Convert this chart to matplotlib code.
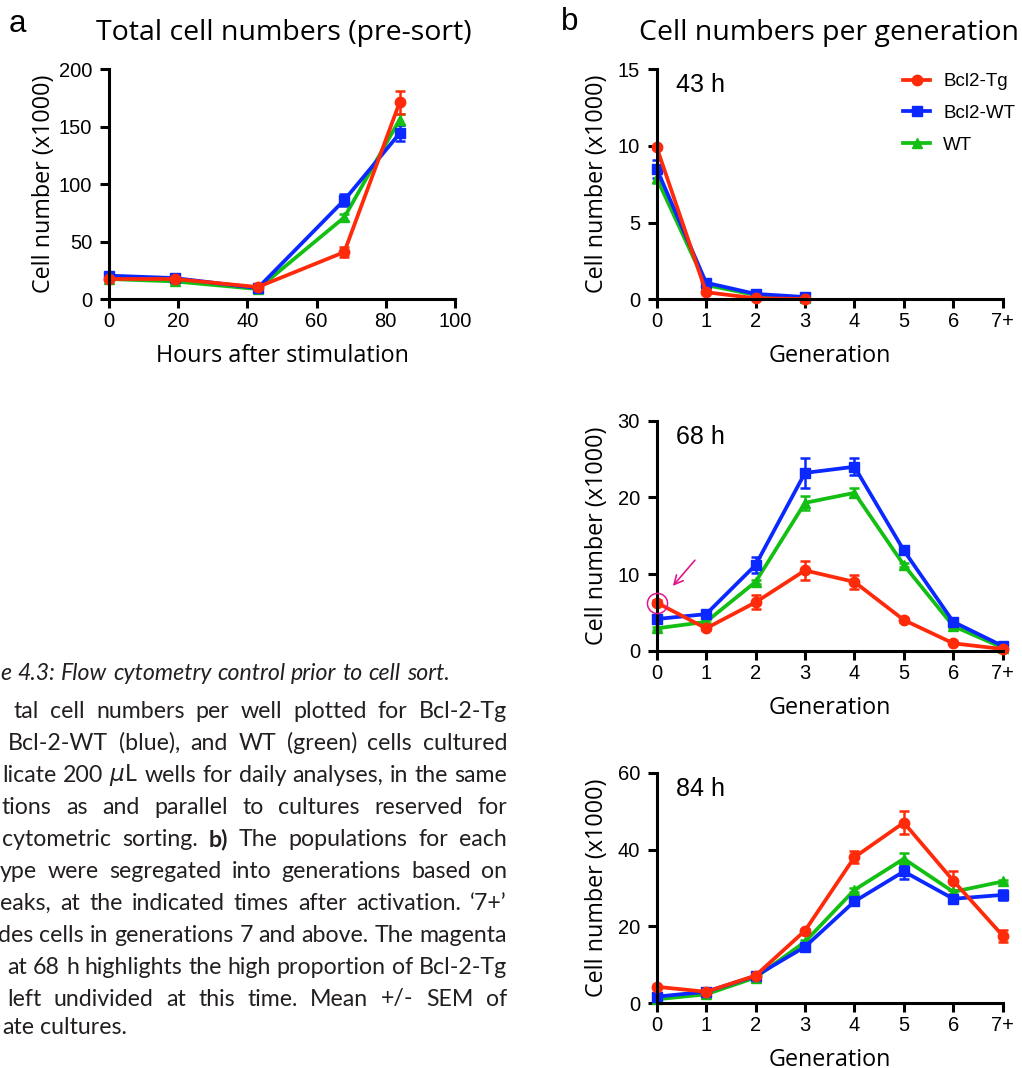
import matplotlib
matplotlib.use("Agg")
import matplotlib.pyplot as plt
from matplotlib.lines import Line2D

# ---- data ----
hours = [0, 19, 43, 68, 84]
tot_tg = [17.4, 17.4, 10.4, 40.8, 171]
tot_tg_err = [1, 1, 1, 4, 10]
tot_bwt = [20.3, 18.2, 9.5, 86, 144]
tot_bwt_err = [1.5, 1, 1, 5, 7]
tot_wt = [17.4, 15.3, 8.7, 71, 156]
tot_wt_err = [1, 1, 1, 3, 5]

gen_labels = ["0", "1", "2", "3", "4", "5", "6", "7+"]

g43_tg = [9.9, 0.46, 0.07, 0.02]
g43_tg_err = [0.1, 0.05, 0.02, 0.01]
g43_bwt = [8.5, 1.08, 0.35, 0.15]
g43_bwt_err = [0.6, 0.1, 0.05, 0.03]
g43_wt = [7.9, 0.93, 0.28, 0.1]
g43_wt_err = [0.3, 0.08, 0.04, 0.02]

g68_tg = [6.3, 2.95, 6.34, 10.5, 9.0, 4.04, 1.0, 0.26]
g68_tg_err = [0.3, 0.2, 0.9, 1.2, 0.9, 0.2, 0.1, 0.05]
g68_bwt = [4.17, 4.8, 11.2, 23.2, 24.0, 13.1, 3.8, 0.65]
g68_bwt_err = [0.2, 0.2, 1.1, 2.0, 1.1, 0.5, 0.3, 0.1]
g68_wt = [2.95, 3.8, 9.0, 19.3, 20.6, 11.2, 3.25, 0.43]
g68_wt_err = [0.2, 0.2, 0.3, 0.9, 0.6, 0.3, 0.2, 0.1]

g84_tg = [4.3, 3.0, 7.2, 18.9, 38.0, 47.0, 31.9, 17.6]
g84_tg_err = [0.3, 0.3, 0.4, 0.5, 1.6, 3.0, 2.5, 1.6]
g84_bwt = [1.73, 3.0, 7.1, 14.7, 26.5, 34.3, 27.2, 28.2]
g84_bwt_err = [0.3, 0.3, 0.3, 0.5, 1.0, 2.0, 0.6, 1.2]
g84_wt = [1.04, 2.34, 6.7, 16.0, 29.5, 37.6, 29.0, 31.7]
g84_wt_err = [0.2, 0.2, 0.3, 0.5, 0.6, 1.5, 0.5, 0.5]

RED = "#ff2a0a"
BLUE = "#0a28ff"
GREEN = "#12bf12"
MAGENTA = "#e0168a"

TICK_FONT = ["Liberation Sans", "DejaVu Sans"]
LABEL_FONT = ["Open Sans", "DejaVu Sans"]
CAP_FONT = ["Lato", "DejaVu Sans"]

W, H = 1022, 1068
fig = plt.figure(figsize=(W / 100, H / 100), dpi=100)


def box(left, top, right, bottom):
    return [left / W, 1 - bottom / H, (right - left) / W, (bottom - top) / H]


def style_axes(ax):
    for s in ["top", "right"]:
        ax.spines[s].set_visible(False)
    for s in ["left", "bottom"]:
        ax.spines[s].set_linewidth(2.2)
    ax.tick_params(direction="out", length=6.5, width=2.2, labelsize=14.5)
    ax.tick_params(axis="x", pad=3)
    ax.tick_params(axis="y", pad=5.5)
    for lab in ax.get_xticklabels() + ax.get_yticklabels():
        lab.set_family(TICK_FONT)


def labels(ax, xlab, ylab_x_px, height_px):
    ax.set_xlabel(xlab, family=LABEL_FONT, fontsize=16.8, va="baseline")
    ax.xaxis.set_label_coords(0.5, -62.5 / height_px)
    ax.set_ylabel("Cell number (x1000)", family=LABEL_FONT, fontsize=16.8,
                  va="baseline")
    ax.yaxis.set_label_coords(-ylab_x_px / 346, 0.5)


def series(ax, x, y, err, color, marker, ms):
    ax.errorbar(x, y, yerr=err, color=color, marker=marker, ms=ms, lw=2.7,
                elinewidth=1.8, capsize=3.8, capthick=1.8, clip_on=False)


# ---- panel a ----
ax = fig.add_axes(box(109, 69, 455, 299))
series(ax, hours, tot_wt, tot_wt_err, GREEN, "^", 7)
series(ax, hours, tot_bwt, tot_bwt_err, BLUE, "s", 7)
series(ax, hours, tot_tg, tot_tg_err, RED, "o", 7.5)
ax.set_xlim(0, 100)
ax.set_ylim(0, 200)
ax.set_xticks([0, 20, 40, 60, 80, 100])
ax.set_yticks([0, 50, 100, 150, 200])
style_axes(ax)
labels(ax, "Hours after stimulation", 59, 230)

fig.text(284 / W, 1 - 33 / H, "Total cell numbers (pre-sort)", family=LABEL_FONT,
         fontsize=20.5, ha="center", va="center")
fig.text(9 / W, 1 - 32 / H, "a", family=TICK_FONT, fontsize=22.5, ha="left", va="baseline")
fig.text(561 / W, 1 - 30 / H, "b", family=TICK_FONT, fontsize=22.5, ha="left", va="baseline")
fig.text(829 / W, 1 - 33 / H, "Cell numbers per generation", family=LABEL_FONT,
         fontsize=20.5, ha="center", va="center")

# ---- panel b ----
panels = [
    ((69, 299.3), 15, [0, 5, 10, 15], "43 h", (g43_tg, g43_tg_err, g43_bwt, g43_bwt_err, g43_wt, g43_wt_err)),
    ((420.7, 651), 30, [0, 10, 20, 30], "68 h", (g68_tg, g68_tg_err, g68_bwt, g68_bwt_err, g68_wt, g68_wt_err)),
    ((772.7, 1003.3), 60, [0, 20, 40, 60], "84 h", (g84_tg, g84_tg_err, g84_bwt, g84_bwt_err, g84_wt, g84_wt_err)),
]
axes_b = []
for (top, bottom), ymax, yt, tag, (tg, tge, bwt, bwte, wt, wte) in panels:
    axb = fig.add_axes(box(656.7, top, 1002.7, bottom))
    series(axb, range(len(wt)), wt, wte, GREEN, "^", 7)
    series(axb, range(len(bwt)), bwt, bwte, BLUE, "s", 7)
    series(axb, range(len(tg)), tg, tge, RED, "o", 7.5)
    axb.set_xlim(0, 7)
    axb.set_ylim(0, ymax)
    axb.set_xticks(range(8))
    axb.set_xticklabels(gen_labels)
    axb.set_yticks(yt)
    style_axes(axb)
    labels(axb, "Generation", 53.7, bottom - top)
    axb.text(19 / 346, 1 - (16 / (bottom - top)), tag, transform=axb.transAxes,
             family=TICK_FONT, fontsize=18, ha="left", va="center")
    axes_b.append(axb)

# legend (top panel)
handles = [
    Line2D([], [], color=RED, marker="o", ms=7.5, lw=2.7),
    Line2D([], [], color=BLUE, marker="s", ms=7, lw=2.7),
    Line2D([], [], color=GREEN, marker="^", ms=7, lw=2.7),
]
fig.legend(handles, ["Bcl2-Tg", "Bcl2-WT", "WT"], loc="upper left",
           bbox_to_anchor=(903 / W, 1 - 73 / H), frameon=False, numpoints=1,
           prop={"family": TICK_FONT, "size": 13.5}, borderpad=0,
           borderaxespad=0, handlelength=1.45, handletextpad=0.7,
           labelspacing=0.78)

# magenta highlight at 68 h
ax68 = axes_b[1]
ax68.plot([0], [g68_tg[0]], marker="o", ms=14.5, mfc="none", mec=MAGENTA,
          mew=1.1, ls="none", clip_on=False, zorder=5)
ax68.annotate("", xy=(0.29, 8.2), xytext=(0.81, 12.1),
              arrowprops=dict(arrowstyle="->", color=MAGENTA, lw=1.2,
                              mutation_scale=16))

# ---- caption (cropped, justified) ----
CAP_SIZE = 16.7
renderer = fig.canvas.get_renderer()

_sp = fig.text(0, 0, "a b", fontsize=CAP_SIZE, family=CAP_FONT)
SPACE = _sp.get_window_extent(renderer).width
_sp.set_text("ab")
SPACE -= _sp.get_window_extent(renderer).width
_sp.remove()


def cap_line(words, y, x0, x1=None, style="normal", bold=()):
    texts = []
    for i, w in enumerate(words):
        t = fig.text(0, 1 - y / H, w, family=CAP_FONT, fontsize=CAP_SIZE,
                     style=style, weight="bold" if i in bold else "normal",
                     color="#231f20", ha="left", va="center")
        texts.append(t)
    widths = [t.get_window_extent(renderer).width for t in texts]
    if x1 is None:
        gap = SPACE
    else:
        gap = max(SPACE, (x1 - x0 - sum(widths)) / (len(words) - 1))
        x0 = x1 - sum(widths) - gap * (len(words) - 1)
    x = x0
    for t, w in zip(texts, widths):
        t.set_x(x / W)
        x += w + gap


cap_line("e 4.3: Flow cytometry control prior to cell sort.".split(), 673, 0, style="italic")
cap_line("tal cell numbers per well plotted for Bcl-2-Tg".split(), 711, 14, 507)
cap_line("Bcl-2-WT (blue), and WT (green) cells cultured".split(), 743, 8, 507)
cap_line(r"licate 200 $\mu$L wells for daily analyses, in the same".split(" "), 775, 2, 507)
cap_line("tions as and parallel to cultures reserved for".split(), 807, 2, 507)
cap_line("cytometric sorting. b) The populations for each".split(), 839, 2, 507, bold=(2,))
cap_line("ype were segregated into generations based on".split(), 871, 0, 507)
cap_line("eaks, at the indicated times after activation. \u20187+\u2019".split(), 903, 0, 507)
cap_line("des cells in generations 7 and above. The magenta".split(), 935, 1, 507)
cap_line("at 68 h highlights the high proportion of Bcl-2-Tg".split(), 967, 13, 507)
cap_line("left undivided at this time. Mean +/- SEM of".split(), 999, 7, 507)
cap_line("ate cultures.".split(), 1027, 2)

fig.savefig("out.png", dpi=100)
